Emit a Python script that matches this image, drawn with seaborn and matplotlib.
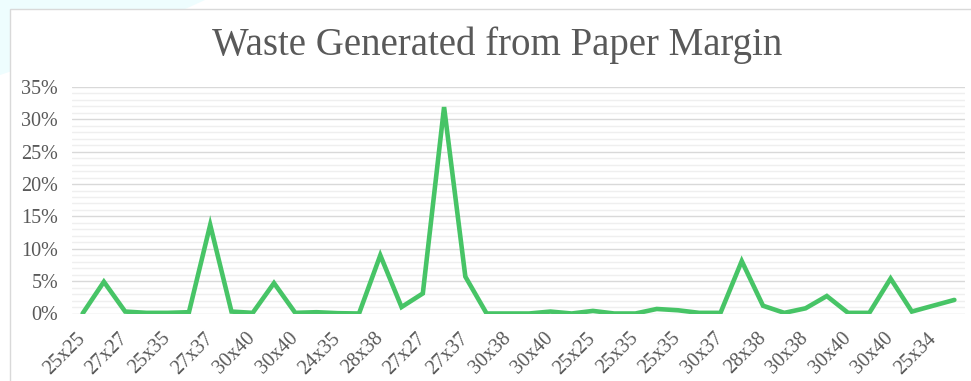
import numpy as np
import pandas as pd
import matplotlib
matplotlib.use("Agg")
import matplotlib.pyplot as plt
from matplotlib.patches import Rectangle, Polygon
from matplotlib.ticker import MultipleLocator, PercentFormatter
import seaborn as sns

# Waste share (fraction of sheet) for each paper size run, in order
waste_share = [
    0.000, 0.049, 0.003, 0.001, 0.001, 0.002, 0.137, 0.003, 0.001, 0.047,
    0.001, 0.002, 0.0005, 0.000, 0.090, 0.010, 0.031, 0.319, 0.057, 0.000,
    0.000, 0.000, 0.003, 0.000, 0.004, 0.000, 0.000, 0.007, 0.005, 0.001,
    0.001, 0.081, 0.012, 0.001, 0.008, 0.027, 0.001, 0.001, 0.054, 0.003,
    0.012, 0.021,
]

# Size labels shown on every second category
size_labels = [
    "25x25", "27x27", "25x35", "27x37", "30x40", "30x40", "24x35", "28x38",
    "27x27", "27x37", "30x38", "30x40", "25x25", "25x35", "25x35", "30x37",
    "28x38", "30x38", "30x40", "30x40", "25x34",
]

title_text = "Waste Generated from Paper Margin"

df = pd.DataFrame({"pos": np.arange(len(waste_share)), "waste": waste_share})

sns.set_theme(style="white")
plt.rcParams["font.family"] = ["Liberation Serif", "DejaVu Serif"]

W, H = 971, 381
fig = plt.figure(figsize=(W / 100, H / 100), dpi=100)
fig.patch.set_facecolor("white")

# decorative tint behind the chart card and the card itself
fig.patches.append(Polygon(
    [(0, 1), (205 / W, 1), (150 / W, 1 - 25 / H), (60 / W, 1 - 55 / H), (0, 1 - 75 / H)],
    closed=True, transform=fig.transFigure, facecolor="#eefdfe", edgecolor="none", zorder=0))
fig.patches.append(Rectangle(
    (10 / W, -0.05), 1.2, 1 - 9 / H + 0.05, transform=fig.transFigure,
    facecolor="white", edgecolor="#d9d9d9", linewidth=1.0, zorder=1))

ax = fig.add_axes([72 / W, 1 - 313.5 / H, (965 - 72) / W, (313.5 - 87) / H])
ax.set_facecolor("none")
ax.set_zorder(2)

sns.lineplot(data=df, x="pos", y="waste", ax=ax, color="#47c466", linewidth=3.3,
             solid_joinstyle="miter", legend=False)

ax.set_xlim(-0.5, len(waste_share) - 0.5)
ax.set_ylim(0, 0.35)
ax.yaxis.set_major_locator(MultipleLocator(0.05))
ax.yaxis.set_minor_locator(MultipleLocator(0.01))
ax.yaxis.set_major_formatter(PercentFormatter(1.0, decimals=0))
ax.grid(True, which="major", axis="y", color="#d9d9d9", linewidth=1.0)
ax.grid(True, which="minor", axis="y", color="#efefef", linewidth=1.0)
ax.set_axisbelow(True)

ax.set_xticks(np.arange(0, len(waste_share), 2))
ax.set_xticklabels(size_labels, rotation=45, ha="right", va="center",
                   rotation_mode="anchor")
ax.tick_params(axis="x", length=0, pad=16, labelsize=14.5, labelcolor="#595959")
ax.tick_params(axis="y", which="both", length=0, pad=10, labelsize=14.5,
               labelcolor="#595959")

for s in ax.spines.values():
    s.set_visible(False)
ax.set_xlabel("")
ax.set_ylabel("")

fig.text(497 / W, 1 - 45 / H, title_text, ha="center", va="center",
         fontsize=28, color="#595959")

fig.savefig("out.png", dpi=100)
